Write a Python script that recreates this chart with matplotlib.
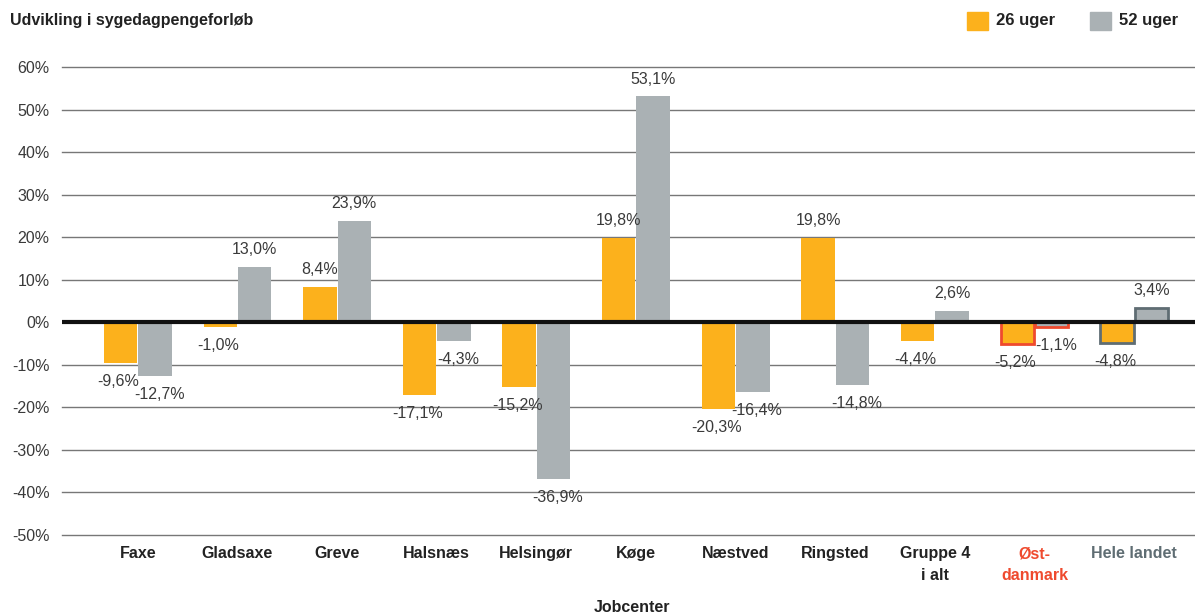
import matplotlib.pyplot as plt
import numpy as np

categories = ["Faxe", "Gladsaxe", "Greve", "Halsnæs", "Helsingør", "Køge",
              "Næstved", "Ringsted", "Gruppe 4\ni alt", "Øst-\ndanmark", "Hele landet"]
uger26 = [-9.6, -1.0, 8.4, -17.1, -15.2, 19.8, -20.3, 19.8, -4.4, -5.2, -4.8]
uger52 = [-12.7, 13.0, 23.9, -4.3, -36.9, 53.1, -16.4, -14.8, 2.6, -1.1, 3.4]
yticks = list(range(-50, 70, 10))

ORANGE = "#fcb11c"
GREY = "#aab1b4"
RED = "#ef4a2e"
SLATE = "#5f6d73"
TXT = "#3a3a3a"

plt.rcParams["font.family"] = ["Liberation Sans", "DejaVu Sans"]

fig = plt.figure(figsize=(11.95, 6.14), dpi=100)
ax = fig.add_axes([0.0519, 0.1287, 0.9481, 0.7622])

x = np.arange(len(categories))
w = 0.335
edge_cols = ["none"] * 9 + [RED, SLATE]
lws = [0] * 9 + [2, 2]

b1 = ax.bar(x - w / 2 - 0.005, uger26, w, color=ORANGE, edgecolor=edge_cols, linewidth=lws, zorder=3)
b2 = ax.bar(x + w / 2 + 0.005, uger52, w, color=GREY, edgecolor=edge_cols, linewidth=lws, zorder=3)

def fmt(v):
    return f"{v:.1f}%".replace(".", ",")

for bars, vals, dx in ((b1, uger26, -2), (b2, uger52, 4)):
    for b, v in zip(bars, vals):
        cx = b.get_x() + b.get_width() / 2
        if v >= 0:
            ax.annotate(fmt(v), (cx, v), xytext=(0, 7), textcoords="offset points",
                        ha="center", va="bottom", fontsize=11.5, color=TXT, zorder=5)
        else:
            ax.annotate(fmt(v), (cx, v), xytext=(dx * 0.75, -8), textcoords="offset points",
                        ha="center", va="top", fontsize=11.5, color=TXT, zorder=5)

for t in yticks:
    if t == 0:
        continue
    ax.axhline(t, color="#777777", linewidth=1, zorder=1, clip_on=False)
ax.axhline(0, color="#111111", linewidth=3, zorder=4)

ax.set_ylim(-50, 60)
ax.set_xlim(-0.76, 10.61)
ax.set_yticks(yticks)
ax.set_yticklabels([f"{t}%" for t in yticks], fontsize=11.5, color=TXT)
ax.tick_params(axis="y", length=0, pad=9)
ax.set_xticks([])
for s in ax.spines.values():
    s.set_visible(False)

for i, c in enumerate(categories):
    col = RED if i == 9 else (SLATE if i == 10 else "#222222")
    ax.annotate(c, (i, -50), xytext=(0, -8), textcoords="offset points",
                ha="center", va="top", fontsize=11.5, fontweight="bold", color=col,
                linespacing=1.55, annotation_clip=False)

fig.text(632 / 1195, 1 - 607 / 614, "Jobcenter", ha="center", va="center",
         fontsize=11.5, fontweight="bold", color="#222222")

fig.text(10 / 1195, 1 - 21 / 614, "Udvikling i sygedagpengeforløb", ha="left", va="center",
         fontsize=11.5, fontweight="bold", color="#222222")

# legend
for (x0, col, lab) in ((967, ORANGE, "26 uger"), (1090, GREY, "52 uger")):
    fig.patches.append(plt.Rectangle((x0 / 1195, 1 - 30 / 614), 21 / 1195, 18 / 614,
                                     transform=fig.transFigure, color=col))
    fig.text((x0 + 29) / 1195, 1 - 21 / 614, lab, ha="left", va="center",
             fontsize=12, fontweight="bold", color="#222222")

fig.savefig("out.png", dpi=100)
